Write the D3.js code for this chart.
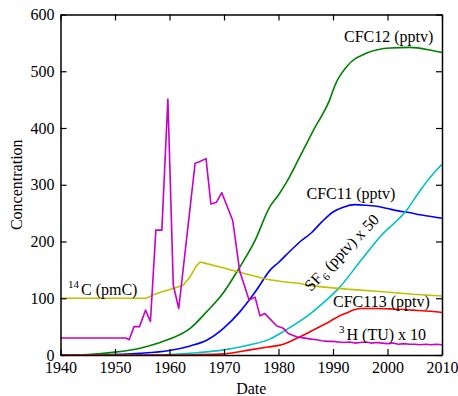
<!DOCTYPE html>
<html>
<head>
<meta charset="utf-8">
<script src="https://cdn.jsdelivr.net/npm/d3@7"></script>
<style>
  html, body { margin: 0; padding: 0; background: #fff; }
  svg { display: block; }
</style>
</head>
<body>
<svg id="chart" width="458" height="396"></svg>
<script>
// Atmospheric tracer histories (Concentration vs Date)
const xTicks = [1940, 1950, 1960, 1970, 1980, 1990, 2000, 2010];
const yTicks = [0, 100, 200, 300, 400, 500, 600];

const cfc12Years  = [1940, 1945, 1950, 1954.6, 1958, 1960, 1963.8, 1966.8, 1969.6, 1972.9, 1975.7, 1978.4, 1980, 1981.5, 1983.9, 1986.4, 1989.4, 1990.4, 1992.5, 1996.2, 2000.5, 2004.1, 2008.4, 2010];
const cfc12Values = [0, 1, 5, 12, 21, 28, 47, 76, 106, 155, 202, 261, 282, 305, 349, 396, 450, 476, 508, 532, 541, 542, 536, 533];

const cfc11Years  = [1940, 1950, 1954.6, 1960, 1963.8, 1966.8, 1969.9, 1972.9, 1975.1, 1976, 1978.5, 1980, 1982, 1984, 1986, 1988, 1990, 1992, 1994, 1996, 1998, 2000, 2002, 2004, 2006, 2008, 2010];
const cfc11Values = [0, 1, 3, 8, 16, 26, 47, 76, 103, 115, 150, 163, 182, 200, 215, 235, 252, 261, 265, 264, 262, 258, 254, 251, 247, 244, 241];

const sf6Years  = [1940, 1955, 1960, 1965, 1970, 1974.8, 1978.4, 1981, 1984, 1986.4, 1988, 1991, 1995, 1998.6, 2003.5, 2006, 2009, 2010];
const sf6Values = [0, 0, 1, 4, 9, 18, 28, 42, 60, 77, 90, 117, 165, 208, 255, 290, 326, 336];

const cfc113Years  = [1940, 1960, 1965, 1970, 1974.8, 1978, 1980.9, 1983.3, 1985.8, 1988, 1989.4, 1991, 1992.5, 1994, 1995, 1998, 2001, 2004.7, 2008, 2010];
const cfc113Values = [0, 0, 0.5, 2, 9, 14, 19, 29, 41, 52, 59, 68, 74, 80, 82, 82, 81, 79, 77, 75];

const c14Years  = [1940, 1955.8, 1957, 1958.5, 1960.7, 1962.5, 1963.8, 1964.8, 1965.6, 1966.8, 1969.3, 1972.3, 1974.8, 1978.1, 1980.9, 1984, 1985.2, 1988, 1992.5, 1998.6, 2004.7, 2010];
const c14Values = [100, 100, 106, 111, 117, 123, 138, 155, 164, 161, 155, 147, 141, 133, 129, 126, 123, 120, 116, 112, 107, 104];

const h3Years  = [1940, 1952, 1952.6, 1953.5, 1954.5, 1955.6, 1956.5, 1957.5, 1958.6, 1959.7, 1960.7, 1961.7, 1964.7, 1965.6, 1966.7, 1967.6, 1968.6, 1969.6, 1971.6, 1972.9, 1974.6, 1975.7, 1976.6, 1977.5, 1979.7, 1980.9, 1981.8, 1983.3, 1984, 1986, 1987, 1988, 1989, 1990, 1991, 1992, 1993, 1994, 1995, 1996, 1997, 1998, 1999, 2000, 2001, 2002, 2003, 2004, 2005, 2006, 2007, 2008, 2009, 2010];
const h3Values = [30, 30, 27, 50, 50, 79, 59, 220, 220, 451, 123, 82, 338, 341, 346, 266, 269, 286, 237, 147, 97, 102, 69, 73, 51, 47, 38, 32, 31, 28, 27, 25, 24, 24, 23, 22, 23, 21, 22, 23, 21, 22, 21, 20, 21, 19, 20, 19, 19, 18, 19, 18, 19, 18];

const seriesList = [
  { name: "cfc12",  years: cfc12Years,  values: cfc12Values,  color: "#008000", curve: d3.curveMonotoneX },
  { name: "cfc11",  years: cfc11Years,  values: cfc11Values,  color: "#0000ff", curve: d3.curveMonotoneX },
  { name: "sf6",    years: sf6Years,    values: sf6Values,    color: "#00c0c0", curve: d3.curveMonotoneX },
  { name: "cfc113", years: cfc113Years, values: cfc113Values, color: "#ff0000", curve: d3.curveMonotoneX },
  { name: "c14",    years: c14Years,    values: c14Values,    color: "#c0c000", curve: d3.curveLinear },
  { name: "h3",     years: h3Years,     values: h3Values,     color: "#c800c8", curve: d3.curveLinear }
];

const SERIF = "Liberation Serif";
const margin = { left: 60.5, right: 16, top: 14.5, bottom: 41 };
const W = 458, H = 396;
const svg = d3.select("#chart");

const x = d3.scaleLinear().domain([1940, 2010]).range([margin.left, W - margin.right]);
const y = d3.scaleLinear().domain([0, 600]).range([H - margin.bottom, margin.top]);

// Curves
const plot = svg.append("g");
seriesList.forEach(s => {
  const pts = s.years.map((yr, i) => [yr, s.values[i]]);
  const line = d3.line().x(d => x(d[0])).y(d => y(d[1])).curve(s.curve);
  plot.append("path")
    .attr("d", line(pts))
    .attr("fill", "none")
    .attr("stroke", s.color)
    .attr("stroke-width", 1.6)
    .attr("stroke-linejoin", "round");
});

// Frame with inward ticks on all four sides
function styleAxis(g, showLabels) {
  g.attr("font-family", SERIF).attr("font-size", 16);
  g.selectAll("path.domain").attr("stroke", "#000").attr("stroke-width", 1.5);
  g.selectAll(".tick line").attr("stroke", "#000").attr("stroke-width", 1.2);
  g.selectAll(".tick text").attr("fill", "#000");
  if (!showLabels) g.selectAll(".tick text").remove();
}

svg.append("g")
  .attr("transform", `translate(0,${y(0)})`)
  .call(d3.axisBottom(x).tickValues(xTicks).tickFormat(d3.format("d")).tickSizeInner(-6).tickSizeOuter(0).tickPadding(7))
  .call(g => styleAxis(g, true));

svg.append("g")
  .attr("transform", `translate(0,${y(600)})`)
  .call(d3.axisTop(x).tickValues(xTicks).tickSizeInner(-6).tickSizeOuter(0))
  .call(g => styleAxis(g, false));

svg.append("g")
  .attr("transform", `translate(${x(1940)},0)`)
  .call(d3.axisLeft(y).tickValues(yTicks).tickSizeInner(-6).tickSizeOuter(0).tickPadding(6))
  .call(g => styleAxis(g, true));

svg.append("g")
  .attr("transform", `translate(${x(2010)},0)`)
  .call(d3.axisRight(y).tickValues(yTicks).tickSizeInner(-6).tickSizeOuter(0))
  .call(g => styleAxis(g, false));

// Axis titles
const titles = svg.append("g").attr("font-family", SERIF).attr("font-size", 16).attr("fill", "#000");
titles.append("text")
  .attr("x", (x(1940) + x(2010)) / 2)
  .attr("y", 393.5)
  .attr("text-anchor", "middle")
  .text("Date");

titles.append("text")
  .attr("transform", `translate(22,${(y(0) + y(600)) / 2}) rotate(-90)`)
  .attr("text-anchor", "middle")
  .text("Concentration");

// Series labels
const labels = svg.append("g").attr("font-family", SERIF).attr("font-size", 16).attr("fill", "#000");
labels.append("text").attr("x", 344).attr("y", 41.5).text("CFC12 (pptv)");
labels.append("text").attr("x", 306.5).attr("y", 199).text("CFC11 (pptv)");
labels.append("text").attr("x", 333).attr("y", 307).text("CFC113 (pptv)");

const h3Label = labels.append("text").attr("x", 339).attr("y", 340);
h3Label.append("tspan").attr("font-size", 11).attr("dy", -7).text("3");
h3Label.append("tspan").attr("dy", 7).attr("dx", 2).text("H (TU) x 10");

const c14Label = labels.append("text").attr("x", 68).attr("y", 295);
c14Label.append("tspan").attr("font-size", 11).attr("dy", -7).text("14");
c14Label.append("tspan").attr("dy", 7).attr("dx", 2).text("C (pmC)");

const sf6Label = labels.append("text")
  .attr("transform", "translate(311,292) rotate(-46)");
sf6Label.append("tspan").text("SF");
sf6Label.append("tspan").attr("font-size", 11).attr("dy", 4).attr("dx", 1).text("6");
sf6Label.append("tspan").attr("dy", -4).text(" (pptv) x 50");
</script>
</body>
</html>
